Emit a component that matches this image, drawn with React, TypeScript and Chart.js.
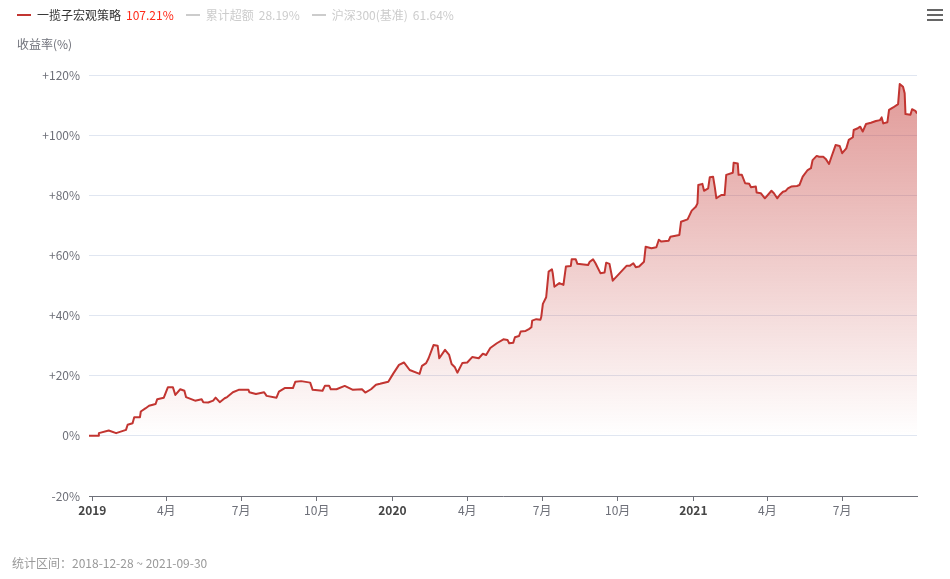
import React, { useEffect, useRef } from "react";
import { Chart, registerables } from "chart.js";

Chart.register(...registerables);

const seriesNames = ["一揽子宏观策略", "累计超额", "沪深300(基准)"];
const seriesTotals = ["107.21%", "28.19%", "61.64%"];
const seriesActive = [true, false, false];

const yAxisTitle = "收益率(%)";
const periodText = "统计区间：2018-12-28 ~ 2021-09-30";
const startDate = "2018-12-28";
const endDate = "2021-09-30";

const tickDates = [
  "2019-01-01", "2019-04-01", "2019-07-01", "2019-10-01",
  "2020-01-01", "2020-04-01", "2020-07-01", "2020-10-01",
  "2021-01-01", "2021-04-01", "2021-07-01",
];
const tickLabels = ["2019", "4月", "7月", "10月", "2020", "4月", "7月", "10月", "2021", "4月", "7月"];
const yearTicks = [true, false, false, false, true, false, false, false, true, false, false];

const dates = [
  "2018-12-28", "2019-01-08", "2019-01-09", "2019-01-21", "2019-01-30", "2019-02-11", "2019-02-13", "2019-02-19",
  "2019-02-21", "2019-02-28", "2019-03-01", "2019-03-07", "2019-03-11", "2019-03-19", "2019-03-21", "2019-03-29",
  "2019-04-03", "2019-04-09", "2019-04-12", "2019-04-18", "2019-04-23", "2019-04-25", "2019-05-06", "2019-05-14",
  "2019-05-16", "2019-05-22", "2019-05-28", "2019-05-31", "2019-06-05", "2019-06-11", "2019-06-14", "2019-06-21",
  "2019-06-28", "2019-07-10", "2019-07-11", "2019-07-19", "2019-07-29", "2019-08-01", "2019-08-13", "2019-08-16",
  "2019-08-23", "2019-09-02", "2019-09-05", "2019-09-12", "2019-09-23", "2019-09-26", "2019-10-08", "2019-10-11",
  "2019-10-16", "2019-10-18", "2019-10-25", "2019-11-04", "2019-11-14", "2019-11-25", "2019-11-29", "2019-12-06",
  "2019-12-12", "2019-12-17", "2019-12-27", "2020-01-02", "2020-01-09", "2020-01-15", "2020-01-22", "2020-02-03",
  "2020-02-06", "2020-02-11", "2020-02-14", "2020-02-20", "2020-02-25", "2020-02-27", "2020-03-05", "2020-03-10",
  "2020-03-13", "2020-03-17", "2020-03-20", "2020-03-26", "2020-04-01", "2020-04-07", "2020-04-15", "2020-04-20",
  "2020-04-24", "2020-04-29", "2020-05-07", "2020-05-15", "2020-05-20", "2020-05-22", "2020-05-27", "2020-05-29",
  "2020-06-03", "2020-06-05", "2020-06-11", "2020-06-15", "2020-06-18", "2020-06-19", "2020-06-24", "2020-06-29",
  "2020-06-30", "2020-07-02", "2020-07-06", "2020-07-09", "2020-07-13", "2020-07-14", "2020-07-16", "2020-07-22",
  "2020-07-27", "2020-07-30", "2020-08-05", "2020-08-06", "2020-08-11", "2020-08-13", "2020-08-26", "2020-08-28",
  "2020-09-01", "2020-09-04", "2020-09-10", "2020-09-15", "2020-09-17", "2020-09-21", "2020-09-25", "2020-10-12",
  "2020-10-16", "2020-10-20", "2020-10-23", "2020-10-27", "2020-11-02", "2020-11-04", "2020-11-11", "2020-11-17",
  "2020-11-20", "2020-11-23", "2020-12-02", "2020-12-04", "2020-12-15", "2020-12-17", "2020-12-25", "2020-12-30",
  "2021-01-04", "2021-01-06", "2021-01-07", "2021-01-12", "2021-01-14", "2021-01-19", "2021-01-21", "2021-01-25",
  "2021-01-27", "2021-01-29", "2021-02-04", "2021-02-08", "2021-02-10", "2021-02-18", "2021-02-19", "2021-02-24",
  "2021-02-25", "2021-03-01", "2021-03-05", "2021-03-10", "2021-03-12", "2021-03-18", "2021-03-19", "2021-03-24",
  "2021-03-29", "2021-04-06", "2021-04-09", "2021-04-13", "2021-04-16", "2021-04-20", "2021-04-23", "2021-04-26",
  "2021-04-30", "2021-05-07", "2021-05-10", "2021-05-14", "2021-05-20", "2021-05-24", "2021-05-26", "2021-05-31",
  "2021-06-03", "2021-06-08", "2021-06-11", "2021-06-15", "2021-06-18", "2021-06-23", "2021-06-28", "2021-07-01",
  "2021-07-06", "2021-07-09", "2021-07-14", "2021-07-15", "2021-07-20", "2021-07-23", "2021-07-26", "2021-07-30",
  "2021-08-05", "2021-08-11", "2021-08-16", "2021-08-18", "2021-08-20", "2021-08-25", "2021-08-27", "2021-09-01",
  "2021-09-07", "2021-09-09", "2021-09-13", "2021-09-15", "2021-09-16", "2021-09-22", "2021-09-24", "2021-09-28",
  "2021-09-30",
];

const strategyReturns = [
  0, 0, 0.9, 1.8, 0.9, 2.0, 3.7, 4.2,
  6.2, 6.2, 8.1, 9.2, 10.0, 10.6, 12.2, 12.7,
  16.2, 16.2, 13.6, 15.5, 15.0, 12.9, 11.7, 12.2,
  11.2, 11.1, 11.7, 12.7, 11.2, 12.5, 12.9, 14.5,
  15.3, 15.3, 14.5, 13.9, 14.5, 13.3, 12.7, 14.7,
  15.9, 15.9, 18.0, 18.2, 17.7, 15.3, 15.0, 16.7,
  16.7, 15.5, 15.5, 16.6, 15.3, 15.5, 14.4, 15.5,
  17.0, 17.3, 18.0, 20.7, 23.6, 24.4, 21.9, 20.6,
  23.3, 24.2, 25.8, 30.2, 30.0, 25.8, 28.6, 26.9,
  23.9, 22.8, 21.0, 24.2, 24.4, 26.2, 25.8, 27.3,
  26.9, 29.2, 30.8, 32.1, 31.9, 30.8, 31.0, 32.8,
  33.2, 34.7, 34.9, 35.5, 36.1, 38.3, 38.8, 38.6,
  39.5, 43.9, 46.1, 54.6, 55.4, 54.1, 49.6, 50.8,
  50.2, 56.3, 56.5, 58.7, 58.7, 57.2, 56.8, 57.9,
  58.7, 57.4, 54.1, 54.3, 57.6, 57.2, 51.6, 56.6,
  56.6, 57.4, 56.1, 56.3, 57.9, 62.9, 62.4, 62.7,
  65.2, 64.6, 64.9, 66.2, 66.8, 71.2, 72.0, 74.9,
  76.2, 77.3, 83.4, 83.8, 81.5, 82.3, 86.0, 86.2,
  82.9, 79.0, 80.1, 80.1, 86.8, 87.5, 90.8, 90.6,
  86.8, 86.8, 84.0, 83.8, 82.7, 82.9, 80.9, 80.7,
  79.0, 81.5, 80.7, 79.0, 80.1, 81.2, 81.4, 82.3,
  82.9, 83.1, 83.4, 86.2, 88.4, 89.0, 91.7, 93.1,
  92.8, 92.8, 92.1, 90.4, 92.8, 96.7, 96.4, 94.0,
  95.6, 98.4, 99.3, 101.7, 102.3, 102.8, 101.2, 103.7,
  104.1, 104.7, 105.0, 105.9, 103.9, 104.3, 108.4, 109.2,
  110.3, 117.0, 116.1, 113.9, 107.0, 106.8, 108.6, 108.1,
  107.21,
];

const yTicks = [-20, 0, 20, 40, 60, 80, 100, 120];

const FONT = "'Microsoft YaHei', 'Noto Sans CJK SC', 'Noto Sans', sans-serif";
const LINE_COLOR = "#c23531";

const toDay = (s: string) =>
  Date.UTC(+s.slice(0, 4), +s.slice(5, 7) - 1, +s.slice(8, 10)) / 86400000;

export default function App() {
  const canvasRef = useRef<HTMLCanvasElement | null>(null);

  useEffect(() => {
    const canvas = canvasRef.current;
    if (!canvas) return;
    const chart = new Chart(canvas, {
      type: "line",
      data: {
        datasets: [
          {
            label: seriesNames[0],
            data: dates.map((d, i) => ({ x: toDay(d), y: strategyReturns[i] })),
            borderColor: LINE_COLOR,
            borderWidth: 2,
            borderJoinStyle: "round",
            pointRadius: 0,
            tension: 0,
            fill: "origin",
            backgroundColor: (ctx: any) => {
              const c = ctx.chart;
              const area = c.chartArea;
              if (!area) return "rgba(194,53,49,0.3)";
              const y0 = c.scales.y.getPixelForValue(0);
              const yTop = c.scales.y.getPixelForValue(117);
              const g = c.ctx.createLinearGradient(0, yTop, 0, y0);
              g.addColorStop(0, "rgba(194,53,49,0.5)");
              g.addColorStop(1, "rgba(194,53,49,0.0)");
              return g;
            },
          },
        ],
      },
      options: {
        responsive: false,
        animation: false,
        devicePixelRatio: 1,
        layout: { padding: { top: 75, right: 33, bottom: 0, left: 0 } },
        plugins: {
          legend: { display: false },
          tooltip: { enabled: false },
          title: { display: false },
        },
        scales: {
          x: {
            type: "linear",
            min: toDay(startDate),
            max: toDay(endDate),
            afterBuildTicks: (scale: any) => {
              scale.ticks = tickDates.map((d) => ({ value: toDay(d) }));
            },
            afterFit: (scale: any) => {
              scale.height = 83;
            },
            ticks: {
              autoSkip: false,
              maxRotation: 0,
              minRotation: 0,
              padding: 2,
              callback: (_v: any, i: number) => tickLabels[i],
              color: (ctx: any) => (yearTicks[ctx.index] ? "#464646" : "#6e7079"),
              font: (ctx: any) => ({
                family: FONT,
                size: 12,
                weight: yearTicks[ctx.index] ? "bold" : "normal",
              }),
            },
            grid: {
              drawOnChartArea: false,
              drawTicks: true,
              tickLength: 5,
              color: "#6e7079",
              tickColor: "#6e7079",
            },
            border: { display: true, color: "#6e7079", width: 1 },
          },
          y: {
            min: -20,
            max: 120,
            afterBuildTicks: (scale: any) => {
              scale.ticks = yTicks.map((v) => ({ value: v }));
            },
            afterFit: (scale: any) => {
              scale.width = 89;
            },
            ticks: {
              padding: 9,
              color: "#6e7079",
              font: { family: FONT, size: 12 },
              callback: (v: any) => (v > 0 ? "+" + v + "%" : v + "%"),
            },
            grid: {
              color: "#e0e6f1",
              drawTicks: false,
              lineWidth: 1,
            },
            border: { display: false },
          },
        },
      } as any,
    });
    return () => chart.destroy();
  }, []);

  const textBase: React.CSSProperties = {
    position: "absolute",
    fontFamily: FONT,
    fontSize: 12,
    lineHeight: "14px",
    whiteSpace: "nowrap",
  };

  return (
    <div
      style={{
        position: "fixed",
        left: 0,
        top: 0,
        width: 950,
        height: 579,
        background: "#fff",
        overflow: "hidden",
      }}
    >
      <canvas ref={canvasRef} width={950} height={579} style={{ display: "block", width: 950, height: 579 }} />
      <div style={{ ...textBase, left: 17, top: 8, display: "flex", alignItems: "center" }}>
        {seriesNames.map((name, i) => (
          <div key={name} style={{ display: "flex", alignItems: "center", marginRight: 12 }}>
            <span
              style={{
                display: "inline-block",
                width: 14,
                height: 2,
                background: seriesActive[i] ? LINE_COLOR : "#cccccc",
                marginRight: 6,
              }}
            />
            <span style={{ color: seriesActive[i] ? "#333333" : "#cccccc" }}>{name}</span>
            <span style={{ color: seriesActive[i] ? "#ff2a1a" : "#cccccc", marginLeft: 5 }}>{seriesTotals[i]}</span>
          </div>
        ))}
      </div>
      <div style={{ ...textBase, left: 17, top: 37, color: "#6e7079" }}>{yAxisTitle}</div>
      <div style={{ ...textBase, left: 12, top: 556, color: "#999999" }}>{periodText}</div>
      <div style={{ position: "absolute", left: 927, top: 9, width: 16 }}>
        {[0, 1, 2].map((k) => (
          <div key={k} style={{ height: 2, background: "#666", marginBottom: k < 2 ? 3 : 0 }} />
        ))}
      </div>
    </div>
  );
}
